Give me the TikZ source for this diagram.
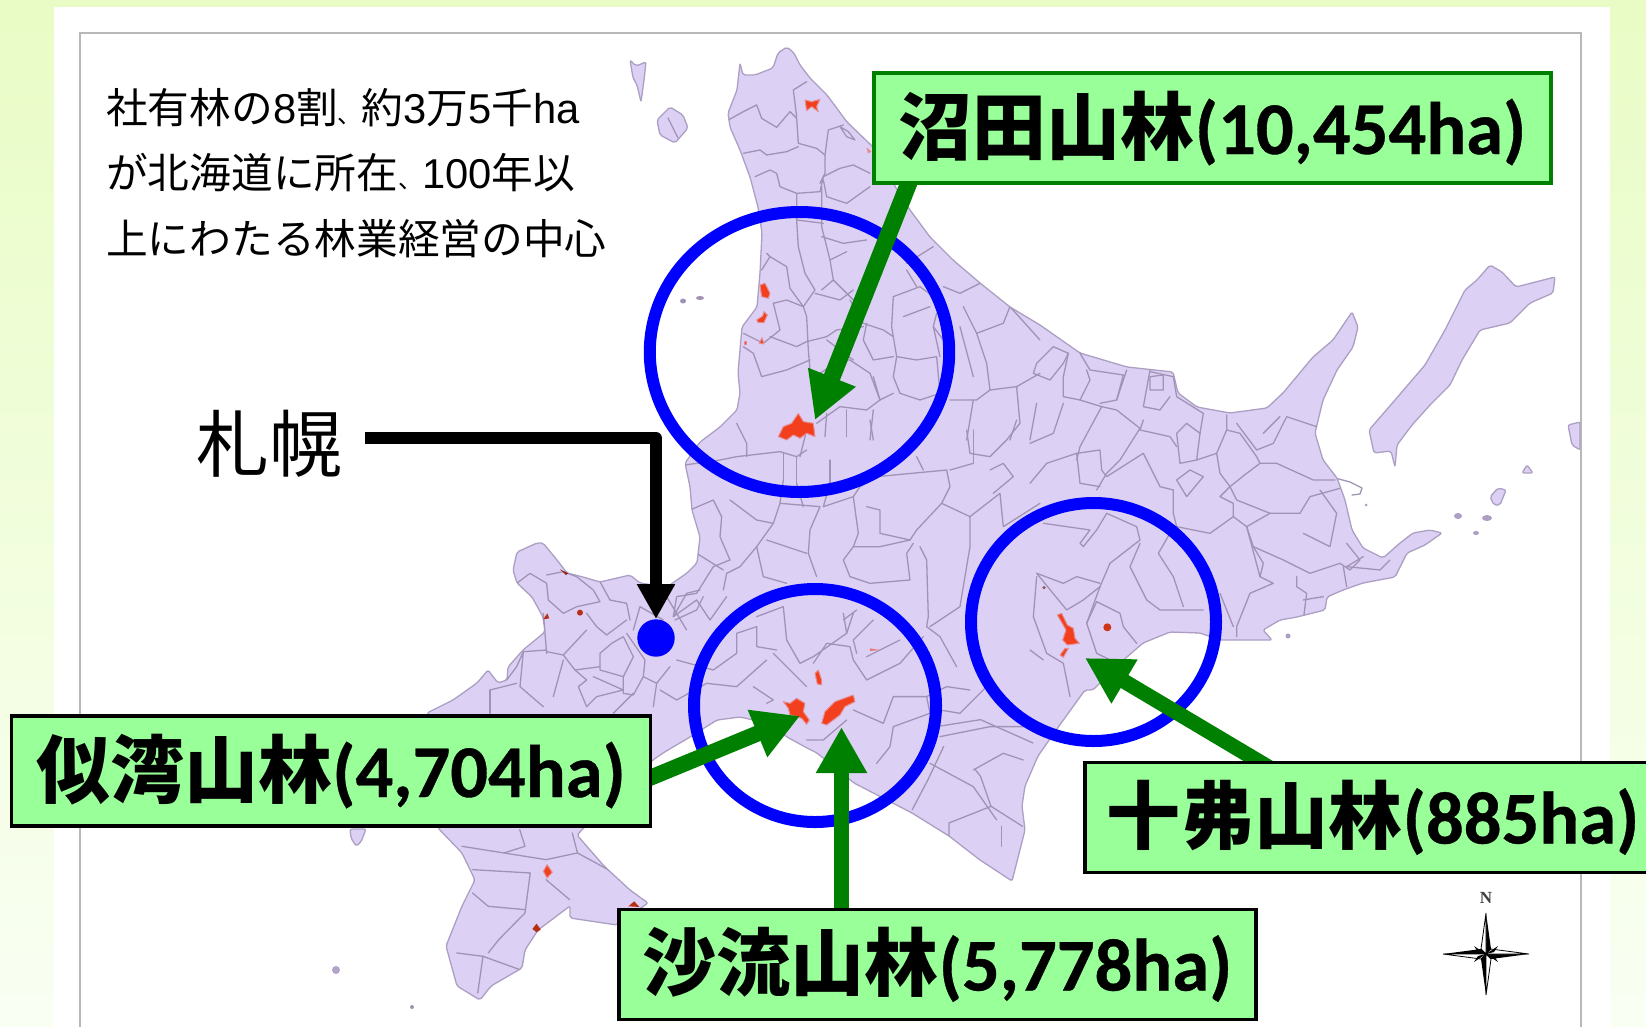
\documentclass[tikz,border=0pt]{standalone}
\usepackage{fontspec}
\usetikzlibrary{arrows.meta}
\setmainfont{Liberation Sans}
\newfontfamily\cjk{Noto Sans CJK JP}
\newfontfamily\carl[BoldFeatures={FakeBold=.5}]{Carlito}
\newfontfamily\srf{Liberation Serif}
\definecolor{land}{HTML}{DDD0F5}
\definecolor{bdr}{HTML}{A093B6}
\definecolor{fgreen}{HTML}{99FF99}
\definecolor{dgreen}{HTML}{008000}
\definecolor{forest}{HTML}{F2401E}
\pgfdeclarelayer{under}
\pgfsetlayers{under,main}
\def\hok{(740,63)--(743,75)--(755,75)--(773,68)--(778,53)--(787,47)--(794,53)--(800,65)--(810,78)--(827,95)--(847,122)--(873,147)--(893,183)--(910,210)--(930,237)--(953,260)--(980,283)--(1010,307)--(1040,325)--(1080,353)--(1127,367)--(1173,372)--(1178,393)--(1197,407)--(1230,413)--(1267,408)--(1283,393)--(1313,357)--(1333,340)--(1352,312)--(1358,327)--(1353,347)--(1337,370)--(1323,400)--(1315,433)--(1323,460)--(1337,478)--(1345,500)--(1352,530)--(1363,548)--(1383,558)--(1400,543)--(1413,533)--(1430,530)--(1442,533)--(1425,545)--(1407,553)--(1395,577)--(1363,583)--(1343,590)--(1327,597)--(1325,610)--(1297,617)--(1280,620)--(1263,630)--(1272,640)--(1250,640)--(1220,640)--(1200,633)--(1170,632)--(1143,643)--(1120,663)--(1093,690)--(1085,690)--(1059,726)--(1038,756)--(1025,786)--(1022,806)--(1025,830)--(1012,881)--(980,860)--(949,836)--(912,813)--(854,783)--(817,753)--(807,748)--(787,737)--(767,723)--(740,717)--(717,720)--(690,737)--(663,753)--(653,760)--(620,790)--(577,835)--(604,866)--(630,890)--(648,903)--(617,925)--(570,918)--(570,906)--(538,930)--(525,950)--(522,968)--(491,986)--(480,1000)--(457,986)--(446,946)--(462,906)--(475,880)--(462,853)--(438,828)--(427,713)--(453,700)--(477,683)--(488,670)--(498,683)--(507,680)--(508,667)--(523,650)--(545,632)--(543,617)--(532,597)--(517,583)--(513,570)--(517,552)--(537,543)--(543,543)--(557,560)--(567,573)--(583,577)--(600,582)--(630,575)--(640,583)--(667,587)--(687,573)--(697,563)--(700,537)--(692,510)--(690,487)--(685,463)--(700,442)--(720,427)--(737,410)--(740,393)--(738,373)--(742,327)--(757,307)--(760,273)--(762,233)--(758,207)--(750,177)--(740,150)--(730,127)--(728,113)--(737,90)--cycle}
\newcommand\pl[1]{\draw[bd] plot coordinates {#1};}
\tikzset{
  bd/.style={draw=bdr,line width=1.3pt,line join=round,line cap=round},
  landfill/.style={fill=land,draw=bdr!80!land,line width=1.3pt,line join=round,rounded corners=2pt},
  red/.style={fill=forest,draw=forest!45!land,line width=1pt,line join=round},
  ring/.style={draw=blue,line width=12pt},
  gbox/.style={draw,fill=fgreen,line width=3.5pt,inner sep=0pt,align=center,text=black,minimum height=110pt},
  garrow/.style={draw=dgreen,line width=17pt,-{Triangle[length=46pt,width=48pt]}},
  plainline/.style={anchor=base west,inner sep=0pt,font=\fontsize{41.7}{44}\selectfont},
}
\newcommand\lb[2]{\fontsize{74}{80}\selectfont{\cjk\bfseries #1}{\carl\bfseries\fontsize{74.5}{80}\selectfont #2}}
\newcommand\tenc{{\fontsize{24}{24}\selectfont 、}}
\begin{document}
\begin{tikzpicture}[x=1pt,y=-1pt]
\clip (0,0) rectangle (1646,1026);
% labels
\node[gbox,draw=dgreen,minimum width=677pt] (numata) at (1212.5,128) {\lb{沼田山林}{(10,454ha)}};
\node[gbox,minimum width=639pt] (niwan) at (331,771) {\lb{似湾山林}{(4,704ha)}};
\node[gbox,minimum width=637pt] (saru) at (937.5,964.5) {\lb{沙流山林}{(5,778ha)}};
\node[gbox,minimum width=576pt] (toppu) at (1373,817.5) {\lb{十弗山林}{(885ha)}};
\node[plainline] (t1) at (106,123) {{\cjk 社有林の}8{\cjk 割\tenc 約}3{\cjk 万}5{\cjk 千}ha};
\node[plainline] (t2) at (106,188) {{\cjk が北海道に所在\tenc}100{\cjk 年以}};
\node[plainline] (t3) at (106,254) {{\cjk 上にわたる林業経営の中心}};
\node[inner sep=0pt,font=\cjk\fontsize{73}{80}\selectfont] (sapporo) at (269,444) {札幌};
\coordinate (s1) at (912,175);
\coordinate (e1) at (815,420);
\coordinate (s2) at (640,782);
\coordinate (e2) at (800,716);
\coordinate (s3) at (841.5,912);
\coordinate (e3) at (841.5,727);
\coordinate (s4) at (1275,771);
\coordinate (e4) at (1085,658);
\coordinate (s5) at (365,438);
\coordinate (bend) at (656,438);
\coordinate (e5) at (656,619);
\begin{pgfonlayer}{under}
\shade[top color={rgb,255:red,233;green,252;blue,197},bottom color={rgb,255:red,249;green,255;blue,243}] (0,0) rectangle (1646,1026);
\fill[white] (54,7) rectangle (1610,1030);
\draw[color=black!28,line width=2pt] (80,1030) -- (80,33) -- (1580.5,33) -- (1580.5,1030);
% islands
\filldraw[landfill] (657,120)--(670,107)--(683,115)--(688,128)--(675,143)--(660,135)--cycle;
\draw[bd] (668,118)--(678,138);
\filldraw[landfill] (630,60)--(636,66)--(646,62)--(644,80)--(641,102)--(637,85)--(633,78)--cycle;
\fill[bdr] (683,301) ellipse (3pt and 2.5pt) (700,298) ellipse (4pt and 2pt);
\filldraw[landfill] (350,829)--(366,829)--(361,842)--(356,846)--(351,838)--cycle;
\fill[bdr!70!land] (336,970) ellipse (4pt and 4pt);
\fill[bdr] (412,1007) circle (2pt);
\filldraw[landfill] (1490,265)--(1502,272)--(1516,287)--(1555,277)--(1553,293)--(1530,303)--(1510,323)--(1480,330)--(1462,360)--(1450,385)--(1430,405)--(1412,425)--(1397,445)--(1395,467)--(1391,451)--(1374,453)--(1369,430)--(1395,400)--(1425,365)--(1445,330)--(1465,290)--(1477,280)--cycle;
\filldraw[landfill] (1568,425)--(1580,422)--(1580,450)--(1572,445)--cycle;
\filldraw[landfill] (1522,473)--(1527,465)--(1533,473)--cycle;
\filldraw[landfill] (1490,497)--(1498,488)--(1506,490)--(1500,505)--(1494,505)--cycle;
\fill[bdr!80!land] (1458,516) ellipse (4pt and 3pt) (1476,533) ellipse (3pt and 2pt) (1487,518) ellipse (5pt and 3pt) (1366,505) circle (1.5pt) (1288,636) circle (2.5pt);
\draw[bd] (1335,478)--(1350,482)--(1362,488)--(1360,494)--(1352,495);
% mainland
\filldraw[landfill] \hok;
\begin{scope}
\clip \hok;
\begin{scope}[shift={(640,40)},x=.3333pt,y=-.3333pt]
\pl{(265,240)(310,215)(350,195)(365,235)(410,262)(450,215)(470,235)(475,310)}
\pl{(500,125)(460,150)(470,230)}
\pl{(475,310)(530,325)(555,345)(555,400)(540,430)}
\pl{(310,340)(360,330)(380,345)(440,335)(475,320)}
\pl{(345,410)(390,390)(410,400)(420,440)(470,460)(540,455)(550,410)(600,385)(640,375)(690,400)}
\pl{(555,345)(565,270)(610,255)}
\pl{(545,440)(545,560)(570,660)(580,720)(545,750)}
\pl{(470,460)(470,540)(475,620)(495,700)(525,750)(490,800)(450,745)(440,680)(390,650)}
\pl{(545,590)(610,610)(680,600)}
\pl{(570,660)(620,635)}
\pl{(490,800)(500,830)(505,930)(510,990)}
\pl{(400,790)(440,780)(490,800)}
\pl{(400,790)(420,870)(370,910)(310,880)}
\pl{(500,905)(470,920)(390,890)}
\pl{(310,920)(340,940)(365,1010)(440,990)(510,960)}
\pl{(525,760)(600,780)(640,750)}
\pl{(630,780)(670,850)(730,870)(760,890)}
\pl{(760,770)(840,740)(880,770)}
\pl{(760,770)(755,860)(770,950)}
\pl{(890,820)(880,860)(910,900)}
\pl{(800,690)(830,740)}
\pl{(560,890)(590,870)(670,860)}
\pl{(630,960)(690,1000)(720,1080)}
\pl{(770,950)(830,960)(890,950)}
\pl{(770,950)(760,1010)(780,1060)(840,1080)}
\pl{(1020,730)(960,760)(910,740)}
\pl{(1110,800)(1090,850)(1010,880)(970,800)}
\pl{(1010,880)(1040,970)(1050,1050)(1010,1080)(930,1080)}
\pl{(880,620)(800,670)}
\pl{(530,1150)(600,1100)(680,1110)(720,1080)(760,1060)}
\pl{(620,1110)(620,1190)}
\pl{(700,1110)(690,1200)}
\pl{(560,1120)(555,1190)}
\pl{(600,260)(625,275)(645,300)(620,290)(600,260)}
\pl{(550,420)(560,470)(620,490)(690,440)}
\pl{(470,540)(550,550)}
\pl{(380,640)(390,650)(365,690)}
\pl{(580,720)(640,780)}
\pl{(680,850)(670,900)(700,960)(760,950)}
\pl{(640,960)(560,900)}
\pl{(500,905)(560,890)}
\pl{(510,990)(540,1000)(600,960)(630,960)}
\pl{(720,1080)(700,1010)}
\pl{(790,830)(870,800)}
\pl{(880,860)(900,950)}
\pl{(960,860)(1000,1010)}
\pl{(1110,800)(1200,900)}
\pl{(1050,1050)(1130,1040)(1200,1000)}
\pl{(890,950)(900,1060)(840,1080)}
\pl{(1130,1040)(1140,1150)(1100,1200)}
\pl{(1000,1080)(980,1200)}
\pl{(1190,1090)(1170,1200)}
\end{scope}
\begin{scope}[shift={(640,420)},x=.3333pt,y=-.3333pt]
\pl{(135,135)(240,120)(290,110)(420,95)(470,110)(500,90)}
\pl{(290,10)(320,70)(320,110)}
\pl{(430,100)(430,180)}
\pl{(470,110)(470,190)}
\pl{(570,120)(570,190)}
\pl{(640,230)(660,200)(710,170)(920,150)(930,200)(905,250)(830,330)(810,360)}
\pl{(150,270)(220,240)(245,290)(240,350)(270,420)(220,440)}
\pl{(270,240)(350,300)(400,310)(420,250)(540,260)(510,330)(505,400)(530,470)}
\pl{(640,230)(655,340)(640,380)(610,420)(630,470)(690,490)(810,480)(800,400)(820,370)}
\pl{(640,380)(720,380)(810,360)}
\pl{(680,260)(720,270)(720,340)(810,360)}
\pl{(840,380)(860,420)(865,590)(860,620)(900,650)(950,740)}
\pl{(905,250)(990,290)(990,380)(960,560)(870,620)}
\pl{(990,290)(1080,220)(1090,320)(1200,250)}
\pl{(1050,150)(1090,130)(1120,170)(1060,220)}
\pl{(980,30)(990,100)(1050,110)(1100,60)}
\pl{(930,150)(1000,130)}
\pl{(400,310)(350,380)(300,440)(260,460)(250,510)}
\pl{(350,380)(370,470)(440,490)}
\pl{(380,360)(500,400)}
\pl{(220,440)(170,520)(110,530)(100,590)(170,540)(210,600)(260,530)}
\pl{(430,560)(440,660)(480,730)(520,710)(620,640)(610,580)}
\pl{(430,560)(350,590)}
\pl{(620,640)(640,580)}
\pl{(520,730)(560,670)(630,680)(640,720)(680,780)(780,730)(850,650)}
\pl{(680,710)(780,660)}
\pl{(350,620)(350,680)(410,690)}
\pl{(350,620)(290,640)(290,700)(220,750)(110,720)}
\pl{(200,790)(290,800)(380,720)}
\pl{(60,810)(110,840)(200,790)}
\pl{(340,800)(400,840)(380,850)}
\pl{(640,870)(730,910)(760,830)(860,830)(870,880)(760,920)(750,980)(710,1030)}
\pl{(500,960)(550,960)(620,900)}
\pl{(860,830)(920,800)(990,810)}
\pl{(900,870)(960,880)(1040,800)}
\pl{(900,950)(1050,920)(1200,920)}
\pl{(870,1030)(1000,1100)(1070,1200)}
\pl{(1000,1050)(1090,1000)(1150,1020)}
\pl{(1000,130)(1000,30)}
\pl{(1110,60)(1130,0)}
\pl{(830,110)(850,150)}
\pl{(690,0)(700,60)}
\pl{(500,30)(480,110)}
\pl{(430,180)(420,250)}
\pl{(470,190)(490,260)}
\pl{(570,190)(550,260)(640,230)}
\pl{(650,570)(610,600)}
\pl{(700,600)(640,660)(650,700)}
\pl{(500,800)(440,740)(400,700)}
\pl{(170,400)(250,450)}
\end{scope}
\begin{scope}[shift={(1030,300)},x=.3333pt,y=-.3333pt]
\pl{(70,140)(20,190)(10,220)(60,240)(100,190)(115,160)(70,140)}
\pl{(115,160)(100,230)(100,290)(150,300)(180,240)(170,210)}
\pl{(150,160)(180,210)(280,225)(260,300)(210,310)}
\pl{(0,430)(70,400)(100,310)}
\pl{(150,300)(215,320)(150,440)(140,480)}
\pl{(0,550)(50,490)(140,460)(210,450)(215,510)(230,530)(340,460)}
\pl{(140,460)(150,550)(210,560)}
\pl{(215,320)(260,330)(330,385)(270,480)(230,520)(200,570)}
\pl{(340,360)(330,390)(420,410)(440,440)}
\pl{(340,460)(390,560)(430,570)}
\pl{(360,210)(340,320)(390,330)(420,290)}
\pl{(360,230)(400,225)(400,270)(360,270)(360,230)}
\pl{(430,230)(440,290)(520,340)(510,400)(470,370)(440,400)(450,490)(500,480)}
\pl{(590,345)(590,390)(560,460)(570,520)(600,560)(650,520)(690,490)}
\pl{(590,390)(630,400)(680,470)(690,490)}
\pl{(620,370)(680,450)(730,430)(770,350)(860,380)}
\pl{(690,490)(740,490)(850,540)(915,540)}
\pl{(430,570)(430,640)(440,680)(540,700)(610,650)(610,610)(570,590)(600,560)}
\pl{(600,560)(620,600)(720,640)(810,640)(840,590)(930,565)}
\pl{(650,680)(720,640)}
\pl{(650,680)(670,740)(760,780)(840,820)(930,790)}
\pl{(610,650)(650,680)(690,830)(730,850)(660,880)(620,980)(620,1010)}
\pl{(670,740)(700,790)(690,830)}
\pl{(800,830)(800,860)(830,880)(820,960)(760,970)}
\pl{(930,790)(960,810)(990,780)(950,730)}
\pl{(940,800)(950,860)}
\pl{(230,640)(200,690)(160,740)(150,730)(180,690)(40,670)}
\pl{(230,640)(320,680)(330,720)(240,790)(210,860)}
\pl{(330,730)(300,800)(350,900)(390,930)(520,930)}
\pl{(385,760)(430,830)(460,920)}
\pl{(385,760)(420,700)}
\pl{(570,880)(610,980)}
\pl{(210,860)(160,900)(110,930)(20,820)}
\pl{(20,820)(100,850)(140,830)(210,850)}
\pl{(210,860)(170,970)(200,1060)(240,1080)}
\pl{(170,970)(200,905)(270,940)(280,980)(320,1030)}
\pl{(20,830)(10,950)(50,1060)(100,1090)(120,1190)}
\pl{(0,1050)(40,1080)}
\pl{(290,210)(260,300)}
\pl{(430,230)(360,215)}
\pl{(510,400)(500,480)(560,460)}
\pl{(750,350)(700,400)}
\pl{(820,700)(900,740)(920,640)(870,570)}
\pl{(1000,770)(950,800)(1050,810)(1080,780)}
\pl{(880,890)(820,900)}
\pl{(480,510)(440,540)(470,590)(520,530)(480,510)}
\end{scope}
\begin{scope}[shift={(823,513)},x=.525pt,y=-.3333pt]
\pl{(220,640)(300,620)(400,690)}
\pl{(230,700)(200,800)(170,890)}
\pl{(290,770)(300,790)(320,880)(240,930)(240,970)}
\pl{(320,880)(380,940)}
\pl{(340,940)(340,1000)}
\end{scope}
\begin{scope}[shift={(0,513)},x=.525pt,y=-.3333pt]
\pl{(880,1000)(960,1020)(1000,1000)(990,950)}
\pl{(960,1020)(1040,1040)(1100,1020)(1090,960)}
\pl{(1100,1020)(1170,1080)}
\pl{(900,1070)(1010,1080)(1000,1200)(950,1280)(930,1320)}
\pl{(1040,1100)(1085,1160)}
\pl{(900,1140)(930,1180)(1000,1190)}
\pl{(870,1320)(920,1330)(990,1370)}
\pl{(920,1330)(910,1440)}
\end{scope}
\begin{scope}[shift={(420,520)},x=.3333pt,y=-.3333pt]
\pl{(290,190)(330,160)(380,190)(385,240)(430,280)}
\pl{(380,165)(430,155)(470,170)(520,210)(540,245)(470,260)(430,280)}
\pl{(370,280)(380,400)}
\pl{(540,185)(570,240)(620,250)(630,300)}
\pl{(500,280)(530,320)(560,345)(620,300)}
\pl{(380,390)(310,395)(290,440)(260,480)}
\pl{(310,395)(300,500)(370,560)}
\pl{(500,330)(430,405)(380,395)}
\pl{(430,420)(400,530)}
\pl{(430,405)(465,450)(540,440)}
\pl{(575,370)(540,400)(540,450)(610,470)(640,410)(610,350)(575,370)}
\pl{(620,340)(675,420)(670,470)(710,490)(750,440)}
\pl{(210,510)(210,580)}
\pl{(210,510)(290,490)}
\pl{(465,450)(500,480)(475,500)(500,560)}
\pl{(520,470)(610,510)(530,530)(500,560)}
\pl{(610,470)(610,520)(640,525)(670,470)}
\pl{(710,490)(700,560)}
\pl{(740,230)(800,330)}
\pl{(640,330)(660,260)(730,300)}
\pl{(765,300)(830,270)(850,230)}
\pl{(760,290)(800,220)(840,210)}
\pl{(640,520)(580,580)}
\end{scope}
\end{scope}
% forests
\begin{scope}[shift={(640,40)},x=.3333pt,y=-.3333pt]
\filldraw[red] (415,1190)--(430,1160)--(455,1150)--(475,1120)--(490,1145)--(520,1150)--(525,1190)--(500,1180)--(480,1195)--(460,1185)--(440,1200)--cycle;
\filldraw[red] (360,735)--(375,730)--(390,760)--(385,775)--(365,770)--cycle;
\filldraw[red] (350,840)--(368,828)--(372,815)--(382,825)--(372,848)--(355,848)--cycle;
\filldraw[red] (358,910)--(366,893)--(372,912)--cycle;
\filldraw[red] (313,905)--(320,905)--(320,914)--(313,914)--cycle;
\filldraw[red] (495,180)--(515,185)--(540,178)--(530,200)--(535,215)--(515,200)--(500,212)--cycle;
\fill[forest!50!land] (680,322)--(694,335)--(684,340)--cycle;
\end{scope}
\begin{scope}[shift={(640,420)},x=.3333pt,y=-.3333pt]
\filldraw[red] (430,845)--(450,850)--(470,835)--(495,850)--(490,875)--(508,900)--(500,913)--(485,895)--(450,885)--(445,865)--cycle;
\filldraw[red] (525,760)--(535,750)--(545,780)--(545,795)--(532,792)--cycle;
\filldraw[red] (545,910)--(555,875)--(585,845)--(640,825)--(645,845)--(615,860)--(600,885)--(560,915)--cycle;
\fill[forest!60!land] (690,685)--(720,690)--(690,693)--cycle;
\end{scope}
\begin{scope}[shift={(1030,300)},x=.3333pt,y=-.3333pt]
\filldraw[red] (82,945)--(95,940)--(112,975)--(130,985)--(135,1015)--(148,1030)--(112,1035)--(98,1020)--(108,990)--cycle;
\filldraw[red] (105,1045)--(115,1045)--(100,1072)--(90,1065)--cycle;
\fill[forest!85!black] (232,982) circle (4pt);
\fill[forest!50!black!70!land] (42,863) circle (1.8pt);
\end{scope}
\begin{scope}[shift={(420,520)},x=.3333pt,y=-.3333pt]
\fill[forest!75!black] (370,298)--(382,280)--(388,295)--cycle;
\fill[forest!75!black] (480,278) circle (3pt);
\fill[forest!60!black] (420,148)--(445,160)--(438,165)--cycle;
\end{scope}
\begin{scope}[shift={(0,513)},x=.525pt,y=-.3333pt]
\filldraw[red] (1035,1075)--(1042,1055)--(1052,1078)--(1042,1095)--cycle;
\fill[forest!75!black] (1197,1180)--(1208,1165)--(1218,1182)--cycle;
\fill[forest!75!black] (1014,1248)--(1022,1232)--(1030,1250)--(1022,1258)--cycle;
\end{scope}
% rings
\draw[ring] (799.5,352) ellipse (149.7pt and 140pt);
\draw[ring] (815,705.5) ellipse (121pt and 116.5pt);
\draw[ring] (1093.5,622) ellipse (122.5pt and 119pt);
% connectors
\draw[garrow] (s1) -- (e1);
\draw[garrow,line width=16pt] (s2) -- (e2);
\draw[garrow,line width=15pt] (s3) -- (e3);
\draw[garrow,line width=15pt] (s4) -- (e4);
\draw[black,line width=12pt,line join=round,-{Triangle[length=35pt,width=36pt]}] (s5) -- (bend) -- (e5);
\fill[blue] (656,638) circle (18.7pt);
% compass rose
\begin{scope}[shift={(1486,954)}]
\fill[black] (0,-41)--(5,-5)--(0,0)--cycle (0,41)--(-5,5)--(0,0)--cycle (-43,0)--(-5,-5)--(0,0)--cycle (43,0)--(5,5)--(0,0)--cycle;
\draw[black,line width=.8pt,fill=white] (0,-41)--(-5,-5)--(0,0)--cycle (0,41)--(5,5)--(0,0)--cycle (-43,0)--(-5,5)--(0,0)--cycle (43,0)--(5,-5)--(0,0)--cycle;
\fill[black] (-12,-8)--(0,0)--(-8,-2)--cycle (12,8)--(0,0)--(8,2)--cycle (12,-8)--(0,0)--(8,-2)--cycle (-12,8)--(0,0)--(-8,2)--cycle;
\node[inner sep=0pt,font=\srf\bfseries\fontsize{17}{18}\selectfont,text=black!75] (north) at (0,-56) {N};
\end{scope}
\end{pgfonlayer}
\end{tikzpicture}
\end{document}
